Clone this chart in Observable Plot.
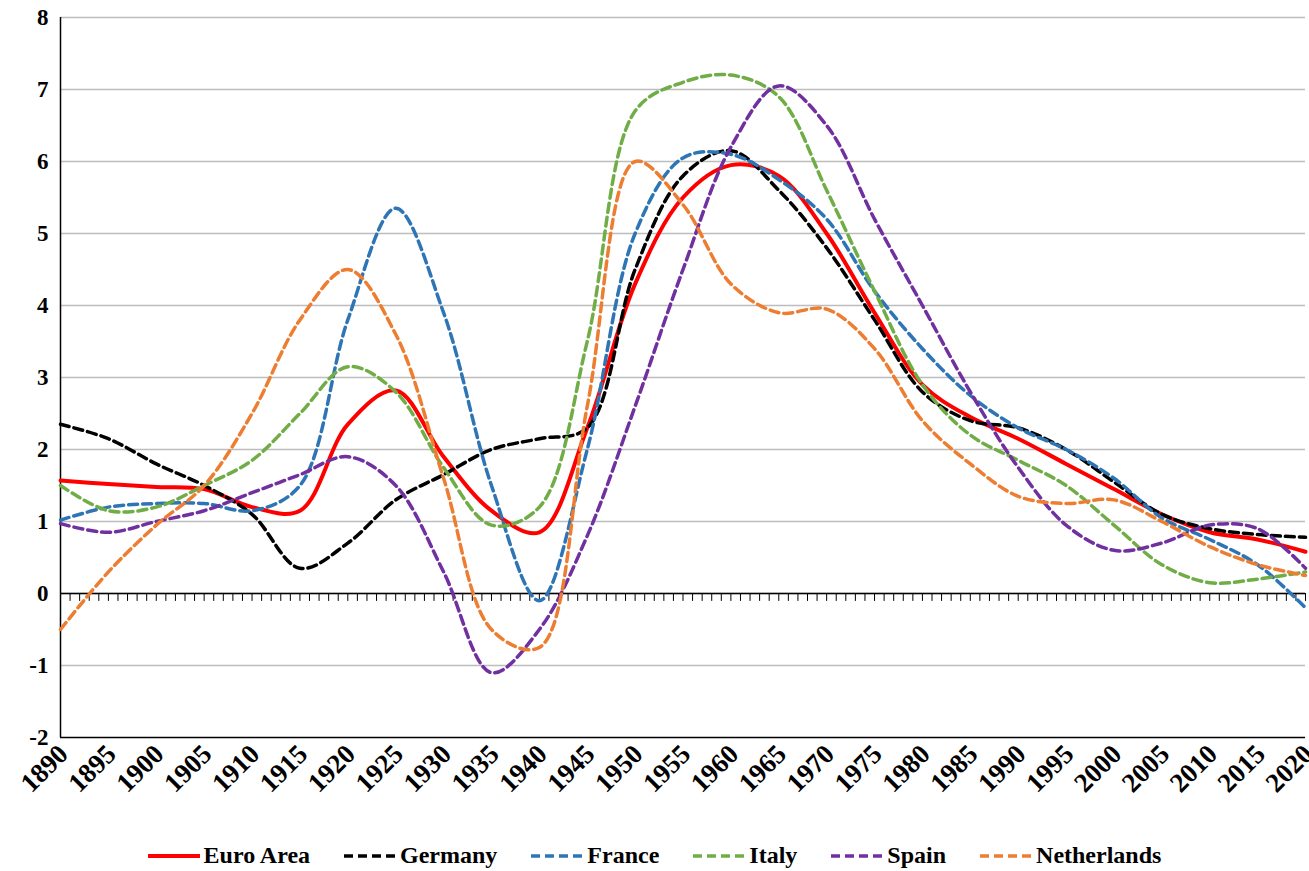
<!DOCTYPE html>
<html>
<head>
<meta charset="utf-8">
<script src="https://cdn.jsdelivr.net/npm/d3@7"></script>
<script src="https://cdn.jsdelivr.net/npm/@observablehq/plot@0.6"></script>
<style>
  body { margin: 0; background: #fff; font-family: "Liberation Serif", serif; }
  #legend { display: flex; justify-content: center; gap: 34px; font-weight: bold; font-size: 24px; margin-top: 12px; }
  #legend span { display: flex; align-items: center; gap: 4px; }
</style>
</head>
<body>
<div id="chart"></div>
<div id="legend"></div>
<script>
const years = d3.range(1890, 2021, 5);
const euroArea = [1.57,1.52,1.48,1.45,1.2,1.15,2.35,2.82,1.9,1.15,0.85,2.3,4.3,5.5,5.95,5.8,5.0,3.9,2.9,2.45,2.15,1.8,1.45,1.1,0.85,0.75,0.58];
const germany = [2.35,2.15,1.8,1.5,1.1,0.35,0.7,1.3,1.65,2.0,2.15,2.3,4.5,5.8,6.15,5.6,4.8,3.8,2.8,2.4,2.3,2.0,1.55,1.1,0.9,0.82,0.78];
const france = [1.02,1.2,1.25,1.25,1.15,1.5,3.8,5.35,3.9,1.5,-0.1,2.0,5.0,6.05,6.1,5.75,5.2,4.2,3.4,2.75,2.3,2.0,1.6,1.05,0.75,0.4,-0.2];
const italy = [1.5,1.15,1.2,1.5,1.85,2.5,3.15,2.8,1.75,0.95,1.2,3.5,6.7,7.1,7.2,6.9,5.6,4.2,2.9,2.2,1.85,1.5,0.95,0.4,0.15,0.2,0.3];
const spain = [0.97,0.85,1.0,1.15,1.4,1.65,1.9,1.5,0.3,-1.1,-0.5,0.8,2.6,4.5,6.2,7.05,6.5,5.2,4.0,2.8,1.75,0.95,0.6,0.7,0.95,0.9,0.35];
const netherlands = [-0.5,0.3,0.95,1.5,2.5,3.8,4.5,3.6,1.6,-0.5,-0.75,2.6,6.0,5.4,4.3,3.9,3.95,3.4,2.4,1.8,1.35,1.25,1.3,1.0,0.65,0.4,0.25];

const series = [
  {name: "Euro Area", values: euroArea, color: "#ff0000", dash: null, width: 4},
  {name: "Germany", values: germany, color: "#000000", dash: "9,5", width: 3.5},
  {name: "France", values: france, color: "#2e75b6", dash: "9,5", width: 3.5},
  {name: "Italy", values: italy, color: "#70ad47", dash: "9,5", width: 3.5},
  {name: "Spain", values: spain, color: "#7030a0", dash: "9,5", width: 3.5},
  {name: "Netherlands", values: netherlands, color: "#ed7d31", dash: "9,5", width: 3.5}
];

const lineMarks = series.map(s => Plot.line(years.map((yr, i) => ({year: yr, v: s.values[i]})), {
  x: "year", y: "v", stroke: s.color, strokeWidth: s.width, strokeDasharray: s.dash, curve: "catmull-rom"
}));

const chart = Plot.plot({
  width: 1309, height: 830,
  marginLeft: 60, marginRight: 4, marginTop: 17, marginBottom: 93,
  style: {fontFamily: "Liberation Serif", fontWeight: "bold", color: "#000", overflow: "visible"},
  x: {domain: [1890, 2020], axis: null},
  y: {domain: [-2, 8]},
  marks: [
    Plot.text(years, {x: d => d, y: -2, text: d => String(d), rotate: -45, textAnchor: "end",
      dx: 3, dy: 12, fontSize: 27, fontWeight: "bold", fill: "#000"}),
    Plot.axisY({ticks: d3.range(-2, 9), tickFormat: d => String(d), tickSize: 0, label: null, tickPadding: 12, fontSize: 23}),
    Plot.ruleY(d3.range(-1, 9), {stroke: "#bdbdbd", strokeWidth: 1.5}),
    Plot.ruleY([-2], {stroke: "#000", strokeWidth: 1.5}),
    Plot.ruleX([1890], {stroke: "#000", strokeWidth: 1.5}),
    Plot.ruleY([0], {stroke: "#000", strokeWidth: 1.5}),
    Plot.ruleX(d3.range(1890, 2021), {y1: 0, y2: -0.11, stroke: "#000", strokeWidth: 1}),
    ...lineMarks
  ]
});
document.getElementById("chart").append(chart);

const legend = d3.select("#legend");
series.forEach(s => {
  const item = legend.append("span");
  const svg = item.append("svg").attr("width", 52).attr("height", 10);
  svg.append("line").attr("x1", 0).attr("x2", 52).attr("y1", 5).attr("y2", 5)
    .attr("stroke", s.color).attr("stroke-width", s.width).attr("stroke-dasharray", s.dash);
  item.append("span").text(s.name);
});
</script>
</body>
</html>
